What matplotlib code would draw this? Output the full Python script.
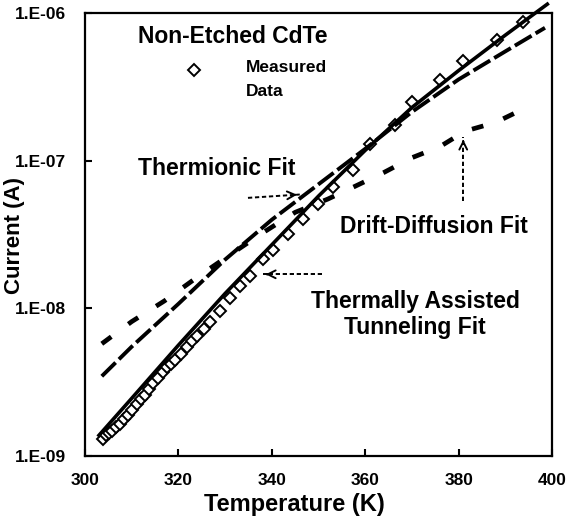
import numpy as np
import matplotlib
matplotlib.use('Agg')
import matplotlib.pyplot as plt
from matplotlib.ticker import FixedLocator, FuncFormatter

plt.rcParams['font.family'] = ['Liberation Sans', 'DejaVu Sans']
plt.rcParams['font.weight'] = 'bold'

meas_T = [303.9, 304.5, 305.2, 305.8, 306.6, 307.5, 308.3, 309.2, 310.1, 311.1,
          312.0, 312.8, 313.7, 314.6, 315.6, 316.7, 317.6, 318.4, 319.3, 320.5,
          321.8, 323.0, 324.0, 325.4, 326.8, 328.9, 331.0, 333.2, 335.3, 338.1,
          340.3, 343.5, 346.7, 350.0, 353.1, 357.4, 361.0, 366.4, 370.0, 376.0,
          380.9, 388.2, 393.8]
meas_I = [1.30e-9, 1.38e-9, 1.42e-9, 1.48e-9, 1.56e-9, 1.65e-9, 1.78e-9, 1.90e-9, 2.05e-9, 2.25e-9,
          2.45e-9, 2.60e-9, 2.85e-9, 3.10e-9, 3.40e-9, 3.70e-9, 4.00e-9, 4.20e-9, 4.45e-9, 4.90e-9,
          5.50e-9, 6.00e-9, 6.50e-9, 7.30e-9, 8.10e-9, 9.60e-9, 1.18e-8, 1.42e-8, 1.66e-8, 2.15e-8,
          2.50e-8, 3.20e-8, 4.00e-8, 5.10e-8, 6.60e-8, 8.70e-8, 1.30e-7, 1.75e-7, 2.50e-7, 3.50e-7,
          4.70e-7, 6.60e-7, 8.70e-7]

# thermally assisted tunneling fit (solid)
tat_T = [303.0, 310, 320, 330, 340, 350, 360, 370, 380, 390, 399]
tat_logI = [-8.86, -8.61, -8.25, -7.90, -7.57, -7.24, -6.93, -6.64, -6.39, -6.15, -5.94]

# thermionic fit (long dash)
th_T = [303.6, 310, 320, 330, 340, 350, 360, 370, 380, 390, 398.5]
th_logI = [-8.46, -8.26, -7.97, -7.67, -7.40, -7.16, -6.92, -6.67, -6.45, -6.26, -6.10]

# drift-diffusion fit (short dash)
dd_T = [303.6, 310, 317, 324, 330, 338, 345, 352, 357.4, 364, 370, 376, 381.4, 388, 394.5]
dd_logI = [-8.24, -8.09, -7.95, -7.79, -7.66, -7.49, -7.35, -7.26, -7.18, -7.08, -6.98, -6.905, -6.80, -6.74, -6.64]

# arrows: (tail, tip)
arrow_th = [(334.9, 5.6e-8), (346.0, 5.9e-8)]
arrow_dd = [(381.0, 5.3e-8), (381.0, 1.45e-7)]
arrow_tat = [(350.8, 1.7e-8), (338.1, 1.7e-8)]

y_ticks = [1e-9, 1e-8, 1e-7, 1e-6]
x_ticks = [300, 320, 340, 360, 380, 400]

fig = plt.figure(figsize=(5.68, 5.21), dpi=100)
ax = fig.add_axes([0.1496, 0.1248, 0.8222, 0.8502])

ax.plot(tat_T, 10 ** np.array(tat_logI), color='black', lw=2.6, clip_on=False, zorder=3)
ax.plot(th_T, 10 ** np.array(th_logI), color='black', lw=2.8, dashes=(5, 1.2), zorder=3)
ax.plot(dd_T, 10 ** np.array(dd_logI), color='black', lw=3.4, dashes=(2.5, 4.5), zorder=3)
ax.plot(meas_T, meas_I, linestyle='none', marker='D', markersize=6.5,
        markerfacecolor='white', markeredgecolor='black', markeredgewidth=1.4, zorder=2)

ax.set_yscale('log')
ax.set_xlim(300, 400)
ax.set_ylim(1e-9, 1e-6)
ax.yaxis.set_major_locator(FixedLocator(y_ticks))
ax.yaxis.set_minor_locator(FixedLocator([]))
ax.yaxis.set_major_formatter(FuncFormatter(lambda v, p: f'1.E-{int(round(-np.log10(v))):02d}'))
ax.set_xticks(x_ticks)
ax.tick_params(direction='in', length=5, width=1.5, labelsize=12.5)
ax.tick_params(axis='y', pad=14)
ax.tick_params(axis='x', pad=12)
for sp in ax.spines.values():
    sp.set_linewidth(1.6)

ax.set_xlabel('Temperature (K)', fontsize=17, fontweight='bold')
ax.xaxis.set_label_coords(0.4475, -0.084)
ax.set_ylabel('Current (A)', fontsize=16, fontweight='bold')
ax.yaxis.set_label_coords(-0.128, 0.497)

# dashed arrows
for (t0, i0), (t1, i1) in [arrow_th, arrow_dd, arrow_tat]:
    ax.plot([t0, t1], [i0, i1], color='black', lw=1.4, dashes=(2.2, 1.4))
    tm = t1 - (t1 - t0) * 0.12
    im = 10 ** (np.log10(i1) - (np.log10(i1) - np.log10(i0)) * 0.12)
    ax.annotate('', xy=(t1, i1), xytext=(tm, im),
                arrowprops=dict(arrowstyle='->', lw=1.4, color='black', mutation_scale=14))

# text
ax.text(0.1135, 0.948, 'Non-Etched CdTe', transform=ax.transAxes, fontsize=16.5,
        fontweight='bold', va='center', ha='left')
ax.plot([0.233], [0.871], transform=ax.transAxes, marker='D', markersize=6.5,
        markerfacecolor='white', markeredgecolor='black', markeredgewidth=1.4)
ax.text(0.345, 0.876, 'Measured', transform=ax.transAxes, fontsize=12.5,
        fontweight='bold', va='center', ha='left')
ax.text(0.345, 0.822, 'Data', transform=ax.transAxes, fontsize=12.5,
        fontweight='bold', va='center', ha='left')
ax.text(0.1135, 0.650, 'Thermionic Fit', transform=ax.transAxes, fontsize=16.5,
        fontweight='bold', va='center', ha='left')
ax.text(0.546, 0.519, 'Drift-Diffusion Fit', transform=ax.transAxes, fontsize=16.5,
        fontweight='bold', va='center', ha='left')
ax.text(0.7066, 0.32, 'Thermally Assisted\nTunneling Fit', transform=ax.transAxes,
        fontsize=16.5, fontweight='bold', va='center', ha='center', multialignment='center',
        linespacing=1.15)

fig.savefig('out.png', dpi=100)
